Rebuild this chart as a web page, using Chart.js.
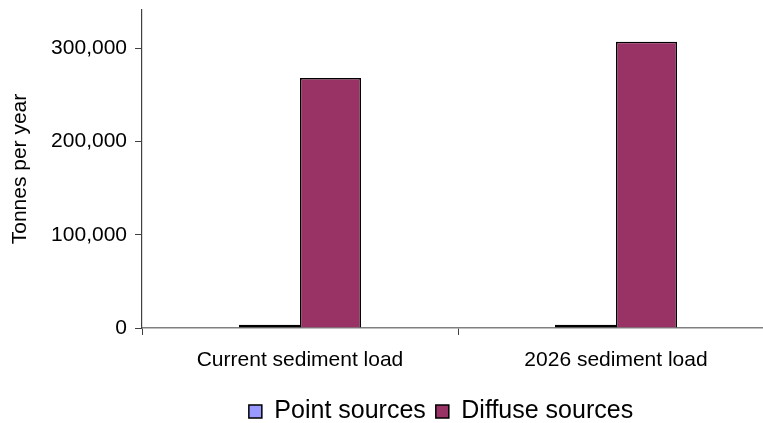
<!DOCTYPE html>
<html>
<head>
<meta charset="utf-8">
<script src="https://cdn.jsdelivr.net/npm/chart.js@4/dist/chart.umd.min.js"></script>
<style>
  html, body { margin: 0; padding: 0; background: #ffffff; overflow: hidden; }
  #wrap { width: 763px; height: 423px; overflow: hidden; position: relative; }
  #box { width: 776px; height: 423px; position: absolute; left: 0; top: 0; }
</style>
</head>
<body>
<div id="wrap"><div id="box"><canvas id="chart"></canvas></div></div>
<script>
// Sediment loads by source, tonnes per year
const categories = ['Current sediment load', '2026 sediment load'];
const pointSources = [3500, 3500];
const diffuseSources = [268000, 307000];
const yTickValues = [0, 100000, 200000, 300000];
const seriesNames = ['Point sources', 'Diffuse sources'];

const FONT = 'Liberation Sans, Arial, sans-serif';

// nudges the legend so it sits under the centre of the plotted bars
const legendShift = {
  id: 'legendShift',
  afterLayout(chart) {
    const lg = chart.legend;
    if (!lg) return;
    const dx = -17, dy = 11;
    lg.left += dx; lg.right += dx;
    lg.top += dy; lg.bottom += dy;
  }
};

new Chart(document.getElementById('chart'), {
  type: 'bar',
  data: {
    labels: categories,
    datasets: [
      {
        label: seriesNames[0],
        data: pointSources,
        backgroundColor: '#9999FF',
        borderColor: '#000000',
        borderWidth: 1.5,
        borderSkipped: false
      },
      {
        label: seriesNames[1],
        data: diffuseSources,
        backgroundColor: '#993366',
        borderColor: '#000000',
        borderWidth: 1.5,
        borderSkipped: 'start'
      }
    ]
  },
  options: {
    responsive: true,
    maintainAspectRatio: false,
    animation: false,
    devicePixelRatio: 1,
    layout: { padding: { left: 0, right: 2, top: 10, bottom: 0 } },
    datasets: { bar: { barPercentage: 1, categoryPercentage: 0.386 } },
    plugins: {
      tooltip: { enabled: false },
      legend: {
        position: 'bottom',
        fullSize: false,
        labels: {
          font: { family: FONT, size: 25 },
          color: '#000000',
          boxWidth: 13,
          boxHeight: 13,
          padding: 10,
          useBorderRadius: false
        }
      }
    },
    scales: {
      x: {
        grid: {
          display: true,
          drawOnChartArea: false,
          drawTicks: true,
          tickLength: 7,
          color: '#404040',
          offset: true
        },
        border: { display: true, color: '#808080', width: 1.5 },
        ticks: {
          font: { family: FONT, size: 21 },
          color: '#000000',
          padding: 13,
          maxRotation: 0
        },
        afterFit(s) { s.height = 50; }
      },
      y: {
        min: 0,
        max: 341000,
        grid: {
          display: true,
          drawOnChartArea: false,
          drawTicks: true,
          tickLength: 7,
          color: '#404040'
        },
        border: { display: true, color: '#404040', width: 1.2 },
        afterBuildTicks(s) {
          s.ticks = yTickValues.map(v => ({ value: v }));
        },
        ticks: {
          font: { family: FONT, size: 21 },
          color: '#000000',
          padding: 8,
          callback: v => v.toLocaleString('en-US')
        },
        title: {
          display: true,
          text: 'Tonnes per year',
          font: { family: FONT, size: 21 },
          color: '#000000',
          padding: { top: 8, bottom: 0 }
        },
        afterFit(s) {
          s.width = 142;
          s.paddingTop = 0;
          s.paddingBottom = 0;
        }
      }
    }
  },
  plugins: [legendShift]
});
</script>
</body>
</html>
